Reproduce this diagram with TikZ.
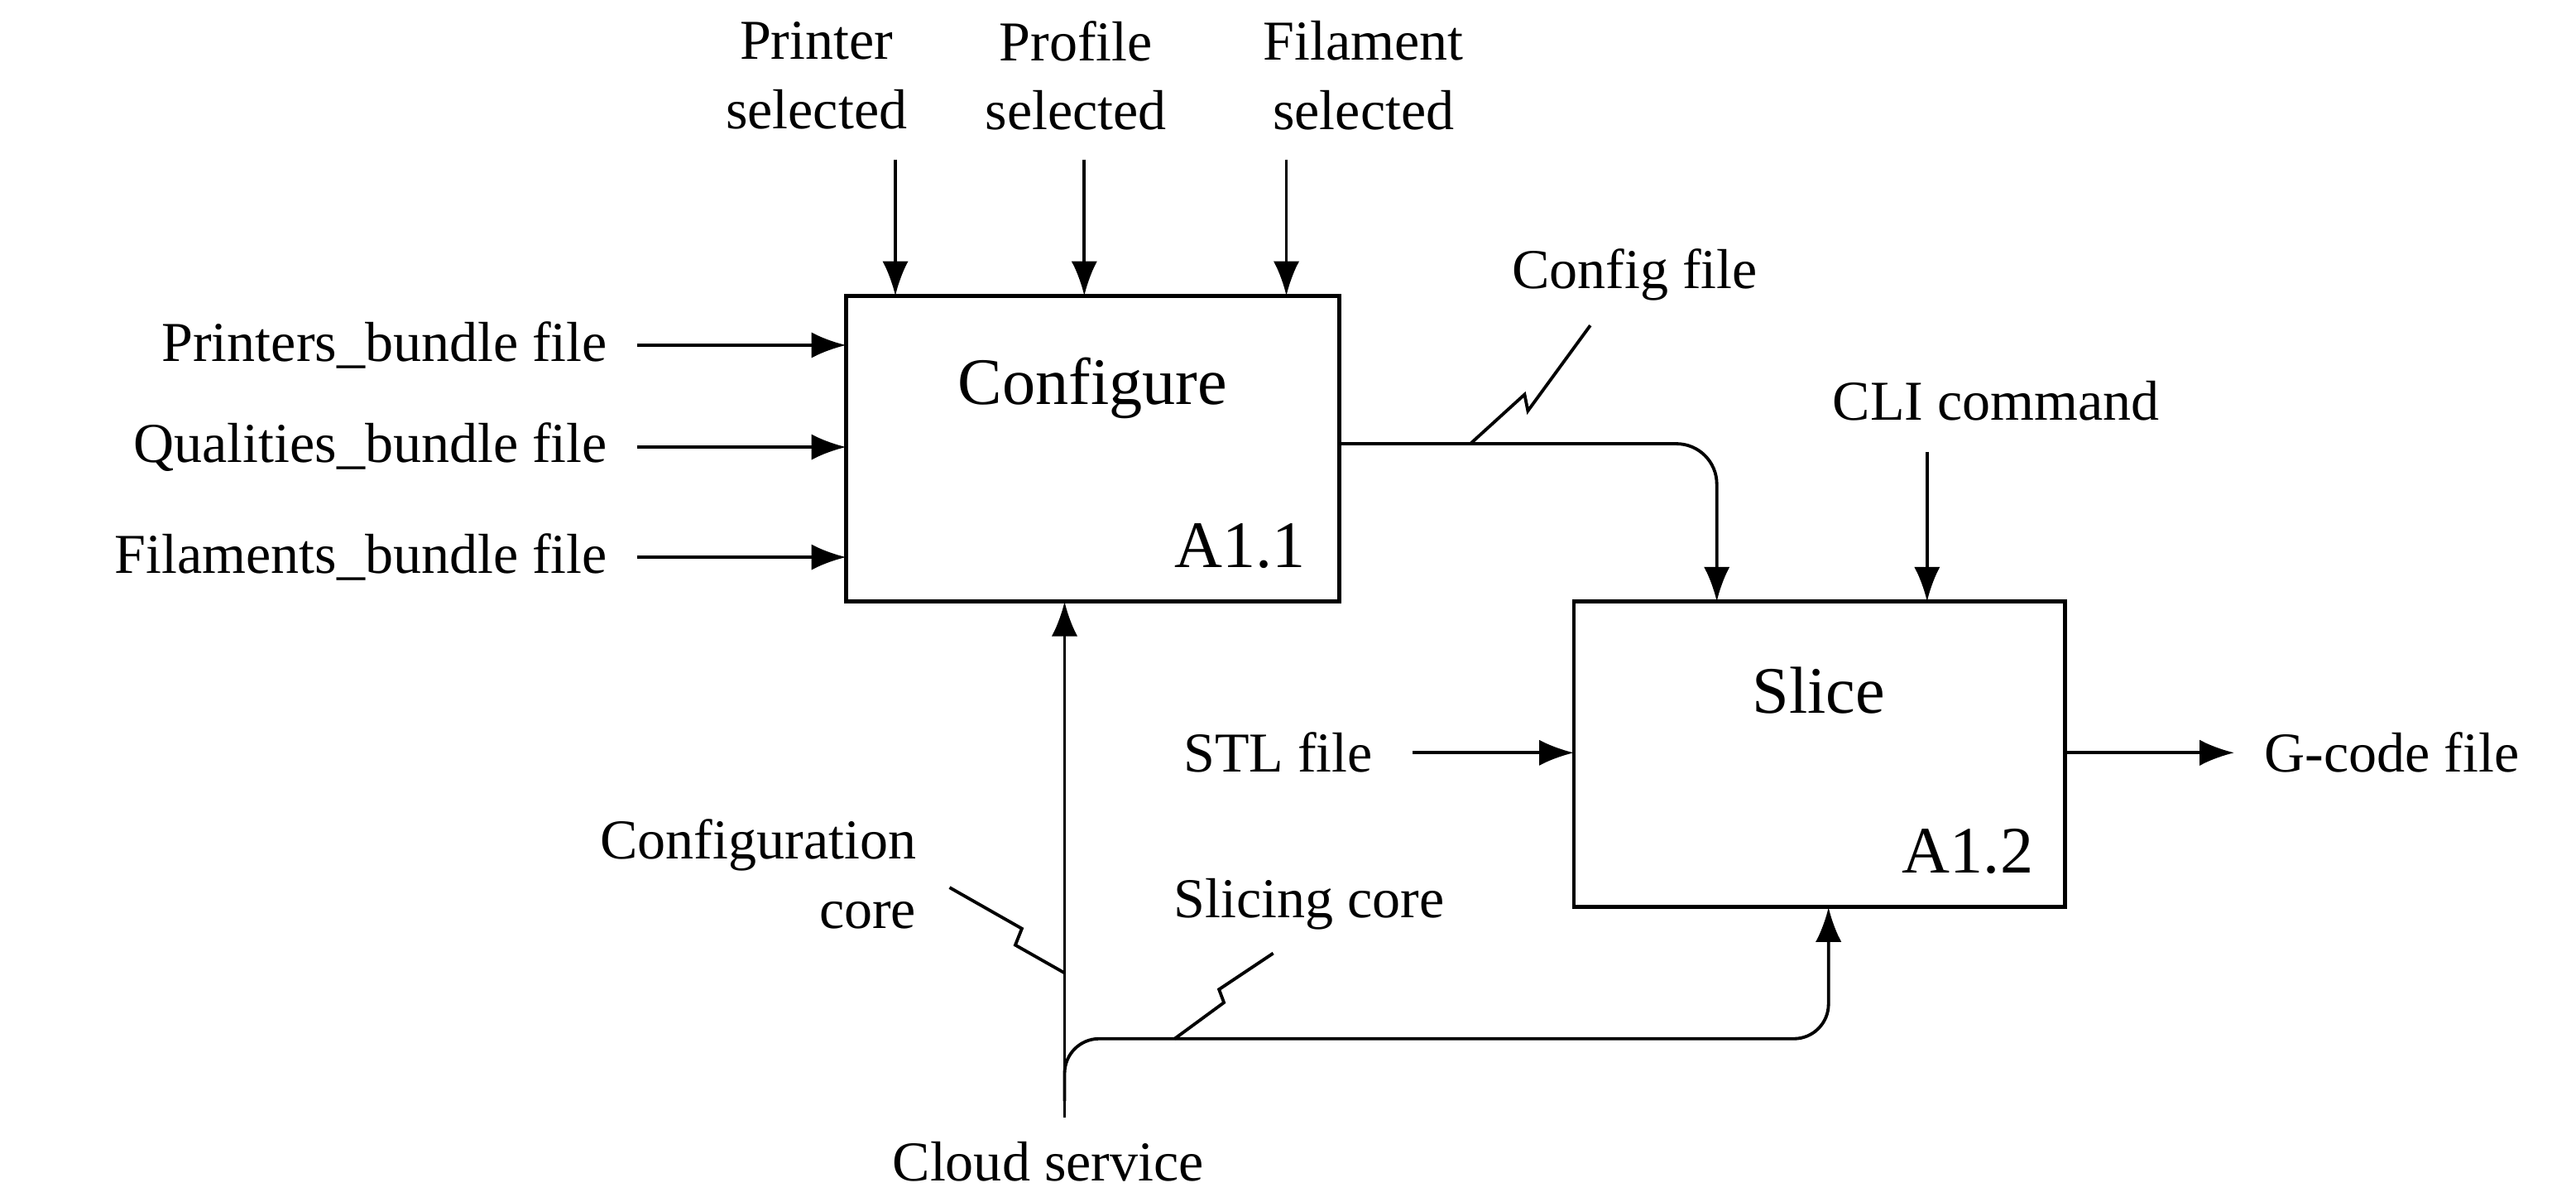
\documentclass[tikz,border=0pt]{standalone}
\usepackage{fontspec}
\setmainfont{Liberation Serif}
\usetikzlibrary{arrows.meta}
\begin{document}
\begin{tikzpicture}[x=0.02cm,y=-0.02cm,
  box/.style={draw,line width=1.4pt},
  arr/.style={line width=1.1pt,-{Latex[length=12pt,width=9pt]}},
  ln/.style={line width=1.1pt},
  lbl/.style={font=\fontsize{19.5}{24}\selectfont,inner sep=0pt,align=center},
  big/.style={font=\fontsize{23}{26}\selectfont,inner sep=0pt}]
\useasboundingbox (0,0) rectangle (1568,731);
\draw[box] (515,180) rectangle (815,366);
\draw[box] (958,366) rectangle (1257,552);
\node[big] (c) at (665,236) {Configure};
\node[big,anchor=south east] (a1) at (795,346) {A1.1};
\node[big] (s) at (1107,420) {Slice};
\node[big,anchor=south east] (a2) at (1238,532) {A1.2};
\coordinate (cb) at (648,366); \coordinate (sb) at (1113,552);
% top inputs
\node[lbl] (p) at (497,46) {Printer\\selected};
\node[lbl] (pr) at (655,46) {Profile\\selected};
\node[lbl] (f) at (830,46) {Filament\\selected};
\draw[arr] (545,97) -- (545,180);
\draw[arr] (660,97) -- (660,180);
\draw[arr] (783,97) -- (783,180);
% left inputs
\node[lbl,anchor=east] (i1) at (370,210) {Printers\_bundle file};
\node[lbl,anchor=east] (i2) at (370,272) {Qualities\_bundle file};
\node[lbl,anchor=east] (i3) at (370,339) {Filaments\_bundle file};
\draw[arr] (388,210) -- (515,210);
\draw[arr] (388,272) -- (515,272);
\draw[arr] (388,339) -- (515,339);
% config file
\node[lbl] (cf) at (995,167) {Config file};
\draw[arr,rounded corners=14pt] (815,270) -- (1045,270) -- (1045,366);
\draw[ln] (895,270) -- (928,240) -- (930,250) -- (968,198);
% CLI
\node[lbl] (cli) at (1215,244) {CLI command};
\draw[arr] (1173,275) -- (1173,366);
% STL
\node[lbl] (stl) at (778,458) {STL file};
\draw[arr] (860,458) -- (958,458);
% G-code
\node[lbl,anchor=west] (g) at (1378,458) {G-code file};
\draw[arr] (1257,458) -- (1360,458);
% cloud
\node[lbl] (cs) at (638,707) {Cloud service};
\draw[arr] (648,680) -- (cb);
\node[lbl,anchor=east,align=right] (cc) at (558,532) {Configuration\\core};
\draw[ln] (648,592) -- (618,575) -- (622,565) -- (578,540);
\draw[arr,rounded corners=12pt] (648,670) -- (648,632) -- (1113,632) -- (sb);
\node[lbl] (sc) at (797,550) {Slicing core};
\draw[ln] (715,632) -- (745,610) -- (742,602) -- (775,580);
\end{tikzpicture}
\end{document}
